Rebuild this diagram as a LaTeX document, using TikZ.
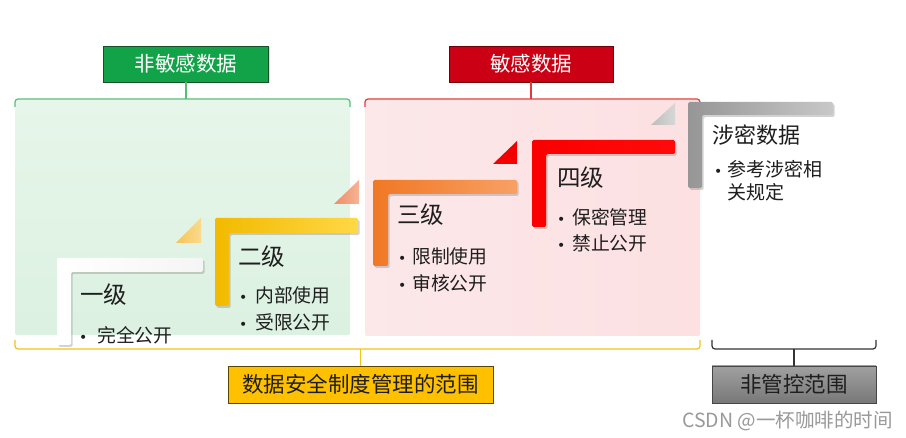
\documentclass[tikz,border=0pt]{standalone}
\usepackage{fontspec}
\setmainfont{Noto Sans CJK SC}
\newfontfamily\bulfont{DejaVu Sans}
\usetikzlibrary{shadows}
\definecolor{gboxc}{HTML}{12A349}
\definecolor{rboxc}{HTML}{CC0014}
\definecolor{yboxc}{HTML}{FFC000}
\definecolor{gbrc}{HTML}{55BE72}
\definecolor{rbrc}{HTML}{E23A3A}
\definecolor{ybrc}{HTML}{F0C419}
\definecolor{txt}{HTML}{1E1E1E}
\definecolor{redtri}{RGB}{245,0,0}
\tikzset{
  labelbox/.style={draw, line width=0.8pt, inner sep=0pt, font=\fontsize{20.5}{24}\selectfont,
    drop shadow={opacity=0.25, shadow xshift=1pt, shadow yshift=-1.5pt}},
  brk/.style={line width=1.2pt, rounded corners=3pt},
  lshape/.style={rounded corners=1.5pt, drop shadow={opacity=0.35, shadow xshift=1.5pt, shadow yshift=-2pt}},
  title/.style={anchor=west, inner sep=0pt, text=txt, font=\fontsize{23.5}{27}\selectfont},
  item/.style={anchor=west, inner sep=0pt, text=txt, font=\fontsize{18.8}{22}\selectfont},
}
\newcommand{\bul}[1]{\makebox[#1][l]{\bulfont\fontsize{14}{14}\selectfont •}}
\begin{document}
\begin{tikzpicture}[x=1pt,y=-1pt]
\useasboundingbox (0,0) rectangle (906,438);
\fill[white] (0,0) rectangle (906,438);

% regions
\shade[top color={rgb,255:red,230;green,246;blue,234}, bottom color={rgb,255:red,220;green,241;blue,225}, rounded corners=2pt]
  (15,100) rectangle (350,335);
\shade[left color={rgb,255:red,252;green,232;blue,233}, right color={rgb,255:red,252;green,224;blue,226}, rounded corners=2pt]
  (365,100) rectangle (700,336);

% label boxes
\node[labelbox, draw={rgb,255:red,20;green,80;blue,40}, fill=gboxc, text=white, minimum width=165pt, minimum height=36pt] (gbox) at (186,64) {非敏感数据};
\node[labelbox, draw={rgb,255:red,110;green,0;blue,10}, fill=rboxc, text=white, minimum width=164pt, minimum height=36pt] (rbox) at (531,64) {敏感数据};
\node[labelbox, draw={rgb,255:red,90;green,70;blue,0}, fill=yboxc, text=txt, minimum width=265pt, minimum height=37pt, font=\fontsize{21.5}{25}\selectfont] (ybox) at (360.5,384.5) {数据安全制度管理的范围};
\node[labelbox, draw={rgb,255:red,70;green,70;blue,70}, top color={rgb,255:red,160;green,160;blue,160}, bottom color={rgb,255:red,120;green,120;blue,120}, text=txt, minimum width=164pt, minimum height=37pt, font=\fontsize{21.5}{25}\selectfont] (kbox) at (794,384.5) {非管控范围};

% bracket coordinates
\coordinate (gmid) at (186,99);
\coordinate (rmid) at (531,99);
\coordinate (ymid) at (360.5,349);
\coordinate (kmid) at (794,349);

% brackets
\draw[brk, gbrc] (15,107) -- (15,99) -- (350,99) -- (350,107);
\draw[brk, gbrc] (gbox.south) -- (gmid);
\draw[brk, rbrc] (365,107) -- (365,99) -- (700,99) -- (700,107);
\draw[brk, rbrc] (rbox.south) -- (rmid);
\draw[brk, ybrc] (15,340) -- (15,349) -- (700,349) -- (700,340);
\draw[brk, ybrc] (ymid) -- (ybox.north);
\draw[brk, black!80] (712,340) -- (712,349) -- (876,349) -- (876,340);
\draw[brk, black!80] (kmid) -- (kbox.north);

% triangles
\shade[left color={rgb,255:red,245;green,196;blue,90}, right color={rgb,255:red,250;green,218;blue,140}]
  (176,243) -- (201,218) -- (201,243) -- cycle;
\shade[left color={rgb,255:red,238;green,140;blue,100}, right color={rgb,255:red,246;green,180;blue,150}]
  (334,204) -- (359,180) -- (359,204) -- cycle;
\fill[redtri] (493,164) -- (517,141) -- (517,164) -- cycle;
\shade[left color={rgb,255:red,190;green,190;blue,190}, right color={rgb,255:red,215;green,215;blue,215}]
  (651,125) -- (675,103) -- (675,125) -- cycle;

% L shapes
\path[lshape, left color=white, right color={rgb,255:red,245;green,245;blue,245}]
  (57,258) -- (203,258) -- (203,272) -- (71,272) -- (71,345) -- (57,345) -- cycle;
\path[lshape, left color={rgb,255:red,242;green,186;blue,0}, right color={rgb,255:red,255;green,216;blue,70}]
  (215,218) -- (358,218) -- (358,233) -- (229,233) -- (229,306) -- (215,306) -- cycle;
\path[lshape, left color={rgb,255:red,240;green,120;blue,36}, right color={rgb,255:red,248;green,160;blue,100}]
  (373,180) -- (517,180) -- (517,194) -- (388,194) -- (388,266) -- (373,266) -- cycle;
\path[lshape, left color={rgb,255:red,250;green,0;blue,0}, right color={rgb,255:red,255;green,10;blue,10}]
  (532,140) -- (675,140) -- (675,154) -- (546,154) -- (546,227) -- (532,227) -- cycle;
\path[lshape, left color={rgb,255:red,150;green,150;blue,150}, right color={rgb,255:red,200;green,200;blue,200}]
  (688,102) -- (833,102) -- (833,115) -- (702,115) -- (702,188) -- (688,188) -- cycle;

% texts
\node[title] (t1) at (80,295) {一级};
\node[item] (t1a) at (79,335) {\bul{18pt}完全公开};
\node[title] (t2) at (238,257) {二级};
\node[item] (t2a) at (239,295) {\bul{16pt}内部使用};
\node[item] (t2b) at (239,322) {\bul{16pt}受限公开};
\node[title] (t3) at (397,215) {三级};
\node[item] (t3a) at (398,256) {\bul{14pt}限制使用};
\node[item] (t3b) at (398,283) {\bul{14pt}审核公开};
\node[title] (t4) at (557,178) {四级};
\node[item] (t4a) at (557,217) {\bul{15pt}保密管理};
\node[item] (t4b) at (557,243) {\bul{15pt}禁止公开};
\node[title, font=\fontsize{22}{26}\selectfont] (t5) at (712,135) {涉密数据};
\node[item, anchor=north west, align=left, font=\fontsize{19}{23}\selectfont] (t5a) at (714,160) {\bul{13pt}参考涉密相\\\hspace*{13pt}关规定};

% watermark
\node[anchor=east, inner sep=0pt, text=black!40, font=\fontsize{19.5}{22}\selectfont] (wm) at (893,421) {CSDN @一杯咖啡的时间};
\end{tikzpicture}
\end{document}
